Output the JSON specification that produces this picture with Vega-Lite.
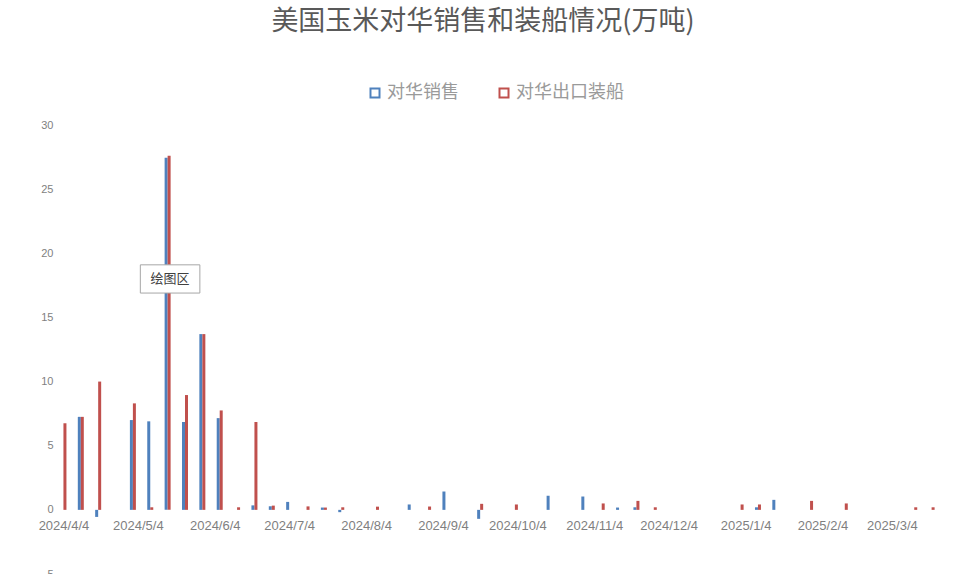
{
  "$schema": "https://vega.github.io/schema/vega-lite/v6.json",
  "description": "美国玉米对华销售和装船情况(万吨), weekly bars",
  "width": 888,
  "height": 449,
  "autosize": "none",
  "padding": {"left": 56, "top": 125, "right": 16, "bottom": 0},
  "background": "white",
  "title": {
    "text": "美国玉米对华销售和装船情况(万吨)",
    "font": "Noto Sans CJK SC",
    "fontSize": 27,
    "fontWeight": "normal",
    "color": "#595959",
    "anchor": "middle",
    "frame": "group",
    "dx": -17,
    "offset": 48
  },
  "data": {
    "values": [
      {"date": "2024/4/4", "series": "对华出口装船", "value": 6.75},
      {"date": "2024/4/11", "series": "对华销售", "value": 7.25},
      {"date": "2024/4/11", "series": "对华出口装船", "value": 7.25},
      {"date": "2024/4/18", "series": "对华销售", "value": -0.55},
      {"date": "2024/4/18", "series": "对华出口装船", "value": 10.0},
      {"date": "2024/5/2", "series": "对华销售", "value": 7.0},
      {"date": "2024/5/2", "series": "对华出口装船", "value": 8.3},
      {"date": "2024/5/9", "series": "对华销售", "value": 6.9},
      {"date": "2024/5/9", "series": "对华出口装船", "value": 0.2},
      {"date": "2024/5/16", "series": "对华销售", "value": 27.45},
      {"date": "2024/5/16", "series": "对华出口装船", "value": 27.6},
      {"date": "2024/5/23", "series": "对华销售", "value": 6.85},
      {"date": "2024/5/23", "series": "对华出口装船", "value": 8.95},
      {"date": "2024/5/30", "series": "对华销售", "value": 13.7},
      {"date": "2024/5/30", "series": "对华出口装船", "value": 13.7},
      {"date": "2024/6/6", "series": "对华销售", "value": 7.15},
      {"date": "2024/6/6", "series": "对华出口装船", "value": 7.75},
      {"date": "2024/6/13", "series": "对华出口装船", "value": 0.2},
      {"date": "2024/6/20", "series": "对华销售", "value": 0.35},
      {"date": "2024/6/20", "series": "对华出口装船", "value": 6.85},
      {"date": "2024/6/27", "series": "对华销售", "value": 0.28},
      {"date": "2024/6/27", "series": "对华出口装船", "value": 0.33},
      {"date": "2024/7/4", "series": "对华销售", "value": 0.62},
      {"date": "2024/7/11", "series": "对华出口装船", "value": 0.27},
      {"date": "2024/7/18", "series": "对华销售", "value": 0.18},
      {"date": "2024/7/18", "series": "对华出口装船", "value": 0.18},
      {"date": "2024/7/25", "series": "对华销售", "value": -0.18},
      {"date": "2024/7/25", "series": "对华出口装船", "value": 0.2},
      {"date": "2024/8/8", "series": "对华出口装船", "value": 0.25},
      {"date": "2024/8/22", "series": "对华销售", "value": 0.42},
      {"date": "2024/8/29", "series": "对华出口装船", "value": 0.26},
      {"date": "2024/9/5", "series": "对华销售", "value": 1.43},
      {"date": "2024/9/19", "series": "对华销售", "value": -0.7},
      {"date": "2024/9/19", "series": "对华出口装船", "value": 0.47},
      {"date": "2024/10/3", "series": "对华出口装船", "value": 0.42},
      {"date": "2024/10/17", "series": "对华销售", "value": 1.1},
      {"date": "2024/10/31", "series": "对华销售", "value": 1.04},
      {"date": "2024/11/7", "series": "对华出口装船", "value": 0.5},
      {"date": "2024/11/14", "series": "对华销售", "value": 0.18},
      {"date": "2024/11/21", "series": "对华销售", "value": 0.2},
      {"date": "2024/11/21", "series": "对华出口装船", "value": 0.7},
      {"date": "2024/11/28", "series": "对华出口装船", "value": 0.2},
      {"date": "2025/1/2", "series": "对华出口装船", "value": 0.42},
      {"date": "2025/1/9", "series": "对华销售", "value": 0.2},
      {"date": "2025/1/9", "series": "对华出口装船", "value": 0.42},
      {"date": "2025/1/16", "series": "对华销售", "value": 0.78},
      {"date": "2025/1/30", "series": "对华出口装船", "value": 0.7},
      {"date": "2025/2/13", "series": "对华出口装船", "value": 0.5},
      {"date": "2025/3/13", "series": "对华出口装船", "value": 0.2},
      {"date": "2025/3/20", "series": "对华出口装船", "value": 0.2}
    ]
  },
  "layer": [
    {
      "transform": [{"filter": "datum.series == '对华销售'"}],
      "mark": {"type": "bar", "width": 3, "xOffset": -1.5},
      "encoding": {
        "color": {
          "field": "series",
          "type": "nominal",
          "scale": {"domain": ["对华销售", "对华出口装船"], "range": ["#4F81BD", "#C0504D"]}
        }
      }
    },
    {
      "transform": [{"filter": "datum.series == '对华出口装船'"}],
      "mark": {"type": "bar", "width": 3, "xOffset": 1.5},
      "encoding": {
        "color": {"field": "series", "type": "nominal"}
      }
    },
    {
      "data": {"values": [{"start": "2024/5/5", "end": "2024/5/29", "low": 16.9, "high": 19.1}]},
      "mark": {"type": "rect", "fill": "white", "stroke": "#a6a6a6", "strokeWidth": 1},
      "encoding": {
        "x": {"field": "start", "type": "temporal"},
        "x2": {"field": "end"},
        "y": {"field": "low", "type": "quantitative"},
        "y2": {"field": "high"}
      }
    },
    {
      "data": {"values": [{"date": "2024/5/17", "value": 18.0, "label": "绘图区"}]},
      "mark": {"type": "text", "font": "Noto Sans CJK SC", "fontSize": 13, "fill": "#404040"},
      "encoding": {
        "text": {"field": "label"}
      }
    }
  ],
  "encoding": {
    "x": {
      "field": "date",
      "type": "temporal",
      "scale": {"type": "time", "padding": 0, "domain": [{"year": 2024, "month": 4, "date": 1}, {"year": 2025, "month": 3, "date": 25}]},
      "axis": {
        "title": null,
        "format": "%Y/%-m/%-d",
        "values": [
          {"year": 2024, "month": 4, "date": 4},
          {"year": 2024, "month": 5, "date": 4},
          {"year": 2024, "month": 6, "date": 4},
          {"year": 2024, "month": 7, "date": 4},
          {"year": 2024, "month": 8, "date": 4},
          {"year": 2024, "month": 9, "date": 4},
          {"year": 2024, "month": 10, "date": 4},
          {"year": 2024, "month": 11, "date": 4},
          {"year": 2024, "month": 12, "date": 4},
          {"year": 2025, "month": 1, "date": 4},
          {"year": 2025, "month": 2, "date": 4},
          {"year": 2025, "month": 3, "date": 4}
        ],
        "offset": -64,
        "labelPadding": 9,
        "labelFont": "Liberation Sans",
        "labelFontSize": 13,
        "labelColor": "#7f7f7f",
        "labelOverlap": false,
        "ticks": false,
        "domain": false,
        "grid": false
      }
    },
    "y": {
      "field": "value",
      "type": "quantitative",
      "scale": {"domain": [-5, 30], "nice": false, "padding": 0},
      "axis": {
        "title": null,
        "values": [-5, 0, 5, 10, 15, 20, 25, 30],
        "labelFont": "Liberation Sans",
        "labelFontSize": 11,
        "labelColor": "#7f7f7f",
        "labelPadding": 3,
        "ticks": false,
        "domain": false,
        "grid": false
      }
    }
  },
  "resolve": {"scale": {"color": "shared"}, "legend": {"color": "shared"}},
  "config": {
    "view": {"stroke": null},
    "legend": {
      "title": null,
      "orient": "none",
      "direction": "horizontal",
      "legendX": 310,
      "legendY": -41,
      "symbolType": "M-1,-1H1V1H-1Z M-0.64,-0.64V0.64H0.64V-0.64Z",
      "symbolSize": 121,
      "symbolStrokeWidth": 0,
      "labelFont": "Noto Sans CJK SC",
      "labelFontSize": 18,
      "labelColor": "#9a9a9a",
      "labelOffset": 3,
      "columnPadding": 36
    }
  }
}
